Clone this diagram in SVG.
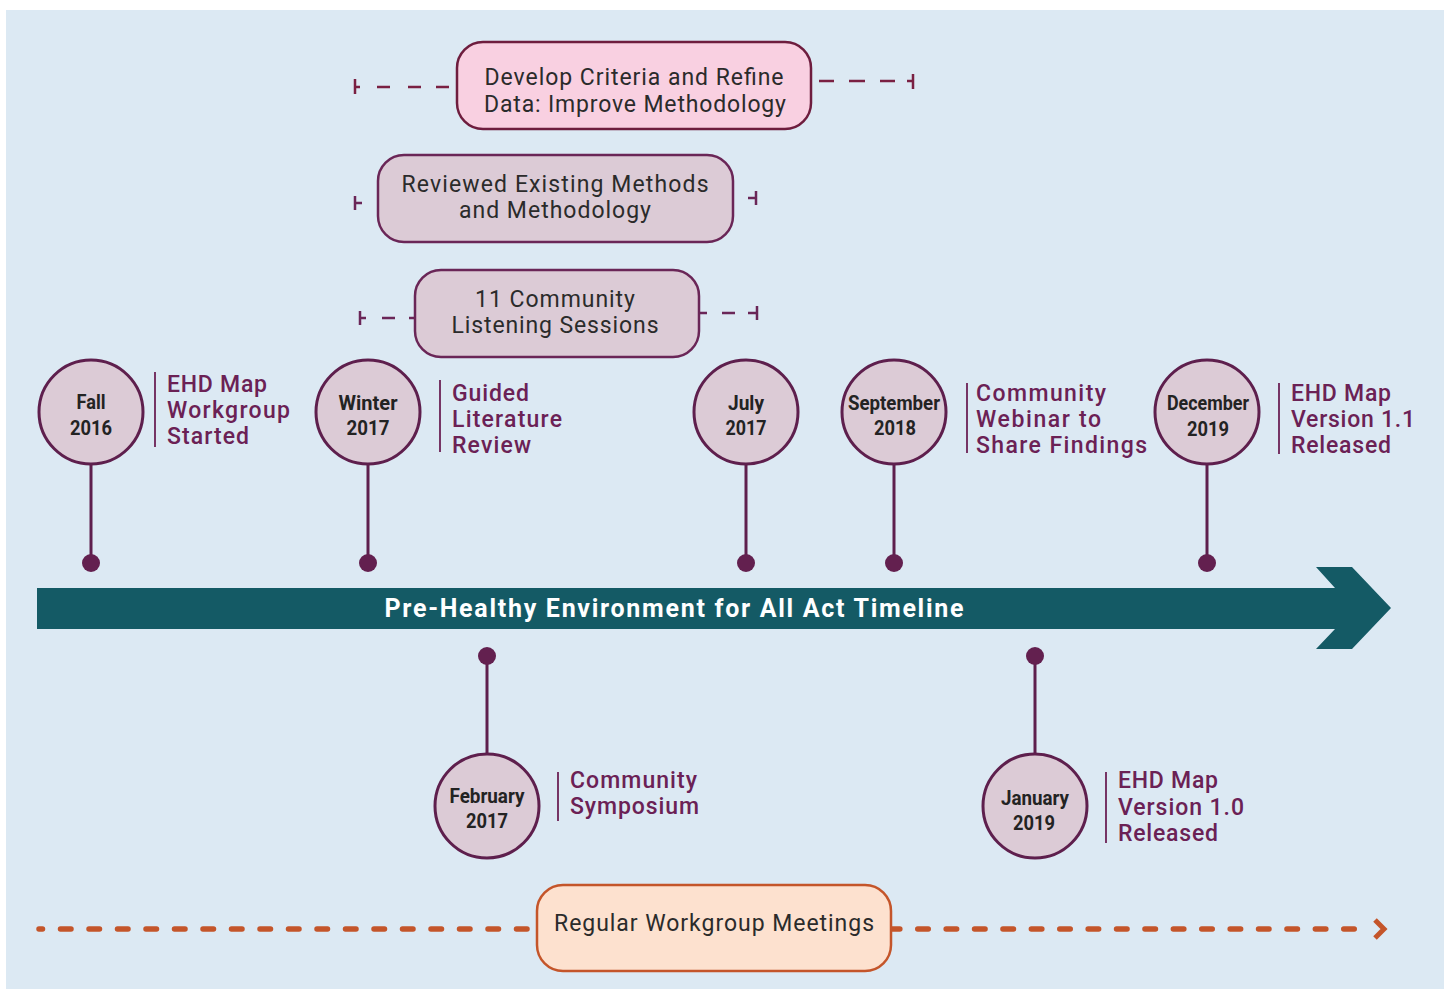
<svg xmlns="http://www.w3.org/2000/svg" width="1449" height="990" viewBox="0 0 1449 990">
<style>
.bg{fill:#dce9f3}
.box-pink{fill:#f9d0e1;stroke:#6e1d3e;stroke-width:2.5}
.box-mauve{fill:#dccbd6;stroke:#6a2657;stroke-width:2.5}
.box-peach{fill:#fde1cf;stroke:#c4552a;stroke-width:2.5}
.btxt{font-family:Roboto,"Liberation Sans",sans-serif;font-size:23px;fill:#2b2b2b;text-anchor:middle}
.circ{fill:#dccbd6;stroke:#5e1f4d;stroke-width:3}
.ctxt{font-family:Roboto,"Liberation Sans",sans-serif;font-weight:700;font-size:21px;fill:#232323;text-anchor:middle}
.lbl{font-family:Roboto,"Liberation Sans",sans-serif;font-weight:500;font-size:23px;fill:#6b2155}
.sep{stroke:#6b2155;stroke-width:1.8}
.stem{stroke:#5e1f4d;stroke-width:3}
.dot{fill:#63204f}
.tickp{fill:none;stroke:#7a2042;stroke-width:2.5}
.tickm{fill:none;stroke:#6a2657;stroke-width:2.5}
.orange{fill:none;stroke:#c4552a;stroke-width:5.5;stroke-linecap:round}
.title{font-family:Roboto,"Liberation Sans",sans-serif;font-weight:700;font-size:25px;fill:#ffffff;text-anchor:middle}
</style>
<rect x="0" y="0" width="1449" height="990" fill="#ffffff"/>
<rect class="bg" x="6" y="10" width="1438" height="979"/>

<g id="connectors">
  <path class="tickp" d="M355 79 V94 M355 87 H360 M377 87 H390 M408 87 H421 M436 87 H449"/>
  <path class="tickp" d="M819 81 H834 M849 81 H865 M880 81 H895 M907 81 H913 M913 74 V89"/>
  <path class="tickm" d="M355 196 V210 M355 203 H362"/>
  <path class="tickm" d="M748 198 H756 M756 191 V205"/>
  <path class="tickm" d="M360 311 V325 M360 318 H366 M382 318 H395 M409 318 H415"/>
  <path class="tickm" d="M699 313 H707 M722 313 H735 M748 313 H757 M757 306 V320"/>
  <line class="stem" x1="91" y1="464" x2="91" y2="563"/>
  <line class="stem" x1="368" y1="464" x2="368" y2="563"/>
  <line class="stem" x1="746" y1="464" x2="746" y2="563"/>
  <line class="stem" x1="894" y1="464" x2="894" y2="563"/>
  <line class="stem" x1="1207" y1="464" x2="1207" y2="563"/>
  <line class="stem" x1="487" y1="656" x2="487" y2="754"/>
  <line class="stem" x1="1035" y1="656" x2="1035" y2="754"/>
  <circle class="dot" cx="91" cy="563" r="9"/>
  <circle class="dot" cx="368" cy="563" r="9"/>
  <circle class="dot" cx="746" cy="563" r="9"/>
  <circle class="dot" cx="894" cy="563" r="9"/>
  <circle class="dot" cx="1207" cy="563" r="9"/>
  <circle class="dot" cx="487" cy="656" r="9"/>
  <circle class="dot" cx="1035" cy="656" r="9"/>
  <line class="orange" x1="39" y1="929" x2="537" y2="929" stroke-dasharray="10.5 18" stroke-dashoffset="7"/>
  <line class="orange" x1="891" y1="929" x2="1358" y2="929" stroke-dasharray="10.5 17.9" stroke-dashoffset="1.65"/>
  <polyline points="1375,920 1384,929 1375,938" fill="none" stroke="#c4552a" stroke-width="5"/>
</g>

<g id="timeline-arrow">
  <polygon points="37,588 1335,588 1316,567 1352,567 1391,608 1352,649 1316,649 1335,629 37,629" fill="#145a65"/>
  <text class="title" x="674" y="617" textLength="579">Pre-Healthy Environment for All Act Timeline</text>
</g>

<g id="box-develop">
  <rect class="box-pink" x="457" y="42" width="354" height="87" rx="26"/>
  <text class="btxt" x="634" y="85" textLength="299">Develop Criteria and Refine</text>
  <text class="btxt" x="635" y="112" textLength="302">Data: Improve Methodology</text>
</g>

<g id="box-reviewed">
  <rect class="box-mauve" x="378" y="155" width="355" height="87" rx="26"/>
  <text class="btxt" x="555" y="192" textLength="307">Reviewed Existing Methods</text>
  <text class="btxt" x="555" y="218" textLength="192">and Methodology</text>
</g>

<g id="box-listening">
  <rect class="box-mauve" x="415" y="270" width="284" height="87" rx="26"/>
  <text class="btxt" x="555" y="307" textLength="160">11 Community</text>
  <text class="btxt" x="555" y="333" textLength="207">Listening Sessions</text>
</g>

<g id="box-meetings">
  <rect class="box-peach" x="537" y="885" width="354" height="86" rx="26"/>
  <text class="btxt" x="714" y="931" textLength="320">Regular Workgroup Meetings</text>
</g>

<g id="m-fall2016">
  <circle class="circ" cx="91" cy="412" r="52"/>
  <text class="ctxt" x="91" y="409" textLength="29" lengthAdjust="spacingAndGlyphs">Fall</text>
  <text class="ctxt" x="91" y="435" textLength="42" lengthAdjust="spacingAndGlyphs">2016</text>
  <line class="sep" x1="155" y1="372" x2="155" y2="447"/>
  <text class="lbl" x="167" y="392" textLength="100">EHD Map</text>
  <text class="lbl" x="167" y="418" textLength="123">Workgroup</text>
  <text class="lbl" x="167" y="444" textLength="82">Started</text>
</g>

<g id="m-winter2017">
  <circle class="circ" cx="368" cy="412" r="52"/>
  <text class="ctxt" x="368" y="410" textLength="59" lengthAdjust="spacingAndGlyphs">Winter</text>
  <text class="ctxt" x="368" y="435" textLength="43" lengthAdjust="spacingAndGlyphs">2017</text>
  <line class="sep" x1="440" y1="380" x2="440" y2="452"/>
  <text class="lbl" x="452" y="401" textLength="77">Guided</text>
  <text class="lbl" x="452" y="427" textLength="110">Literature</text>
  <text class="lbl" x="452" y="453" textLength="79">Review</text>
</g>

<g id="m-july2017">
  <circle class="circ" cx="746" cy="412" r="52"/>
  <text class="ctxt" x="746" y="410" textLength="36" lengthAdjust="spacingAndGlyphs">July</text>
  <text class="ctxt" x="746" y="435" textLength="41" lengthAdjust="spacingAndGlyphs">2017</text>
</g>

<g id="m-sept2018">
  <circle class="circ" cx="894" cy="412" r="52"/>
  <text class="ctxt" x="894" y="410" textLength="92" lengthAdjust="spacingAndGlyphs">September</text>
  <text class="ctxt" x="895" y="435" textLength="42" lengthAdjust="spacingAndGlyphs">2018</text>
  <line class="sep" x1="967" y1="383" x2="967" y2="453"/>
  <text class="lbl" x="976" y="401" textLength="130">Community</text>
  <text class="lbl" x="976" y="427" textLength="125">Webinar to</text>
  <text class="lbl" x="976" y="453" textLength="171">Share Findings</text>
</g>

<g id="m-dec2019">
  <circle class="circ" cx="1207" cy="412" r="52"/>
  <text class="ctxt" x="1208" y="410" textLength="82" lengthAdjust="spacingAndGlyphs">December</text>
  <text class="ctxt" x="1208" y="436" textLength="42" lengthAdjust="spacingAndGlyphs">2019</text>
  <line class="sep" x1="1279" y1="383" x2="1279" y2="454"/>
  <text class="lbl" x="1291" y="401" textLength="100">EHD Map</text>
  <text class="lbl" x="1291" y="427" textLength="124">Version 1.1</text>
  <text class="lbl" x="1291" y="453" textLength="100">Released</text>
</g>

<g id="m-feb2017">
  <circle class="circ" cx="487" cy="806" r="52"/>
  <text class="ctxt" x="487" y="803" textLength="75" lengthAdjust="spacingAndGlyphs">February</text>
  <text class="ctxt" x="487" y="828" textLength="42" lengthAdjust="spacingAndGlyphs">2017</text>
  <line class="sep" x1="558" y1="772" x2="558" y2="821"/>
  <text class="lbl" x="570" y="788" textLength="127">Community</text>
  <text class="lbl" x="570" y="814" textLength="129">Symposium</text>
</g>

<g id="m-jan2019">
  <circle class="circ" cx="1035" cy="806" r="52"/>
  <text class="ctxt" x="1035" y="805" textLength="68" lengthAdjust="spacingAndGlyphs">January</text>
  <text class="ctxt" x="1034" y="830" textLength="42" lengthAdjust="spacingAndGlyphs">2019</text>
  <line class="sep" x1="1106" y1="772" x2="1106" y2="843"/>
  <text class="lbl" x="1118" y="788" textLength="100">EHD Map</text>
  <text class="lbl" x="1118" y="815" textLength="126">Version 1.0</text>
  <text class="lbl" x="1118" y="841" textLength="100">Released</text>
</g>
</svg>
